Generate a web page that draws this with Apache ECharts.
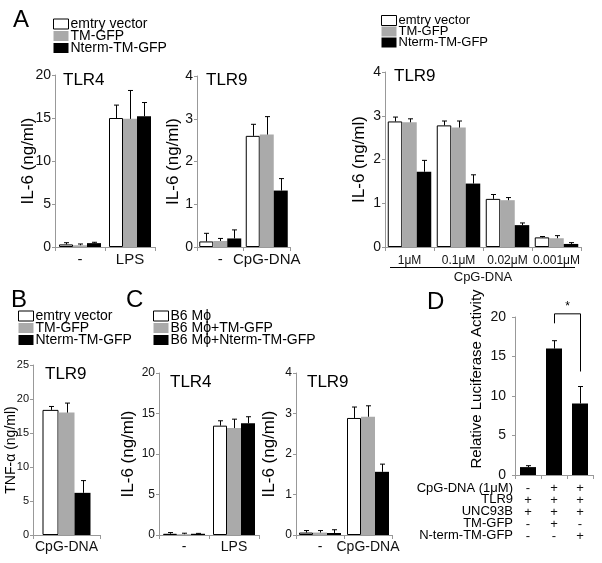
<!DOCTYPE html>
<html><head><meta charset="utf-8">
<script src="https://cdn.jsdelivr.net/npm/echarts@6/dist/echarts.min.js"></script>
<style>html,body{margin:0;padding:0;background:#fff}#c{width:602px;height:563px}</style>
</head><body><div id="c"></div>
<script>
// ---------- data ----------
const namesA = ['emtry vector', 'TM-GFP', 'Nterm-TM-GFP'];
const namesC = ['B6 Mϕ', 'B6 Mϕ+TM-GFP', 'B6 Mϕ+Nterm-TM-GFP'];

// Panel A, TLR4
const a1Cats = ['-', 'LPS'];
const a1Empty = [0.3, 15.0], a1EmptyErr = [0.2, 1.5];
const a1TM = [0.2, 14.9], a1TMErr = [0.15, 3.3];
const a1Nterm = [0.45, 15.2], a1NtermErr = [0.1, 1.6];

// Panel A, TLR9
const a2Cats = ['-', 'CpG-DNA'];
const a2Empty = [0.13, 2.6], a2EmptyErr = [0.19, 0.27];
const a2TM = [0.14, 2.63], a2TMErr = [0.06, 0.42];
const a2Nterm = [0.2, 1.32], a2NtermErr = [0.2, 0.28];

// Panel A, TLR9 dose
const a3Cats = ['1μM', '0.1μM', '0.02μM', '0.001μM'];
const a3Empty = [2.87, 2.78, 1.10, 0.22], a3EmptyErr = [0.10, 0.10, 0.10, 0.02];
const a3TM = [2.85, 2.73, 1.07, 0.20], a3TMErr = [0.08, 0.15, 0.06, 0.06];
const a3Nterm = [1.72, 1.45, 0.50, 0.07], a3NtermErr = [0.26, 0.20, 0.05, 0.03];

// Panel B, TNF-α
const bCats = ['CpG-DNA'];
const bEmpty = [18.4], bEmptyErr = [0.5];
const bTM = [18.0], bTMErr = [1.4];
const bNterm = [6.2], bNtermErr = [1.8];

// Panel C, TLR4
const c1Cats = ['-', 'LPS'];
const c1B6 = [0.15, 13.5], c1B6Err = [0.15, 0.6];
const c1TM = [0.1, 13.2], c1TMErr = [0.12, 1.1];
const c1Nterm = [0.15, 13.8], c1NtermErr = [0.05, 0.8];

// Panel C, TLR9
const c2Cats = ['-', 'CpG-DNA'];
const c2B6 = [0.06, 2.89], c2B6Err = [0.05, 0.27];
const c2TM = [0.06, 2.92], c2TMErr = [0.05, 0.27];
const c2Nterm = [0.05, 1.56], c2NtermErr = [0.08, 0.19];

// Panel D, luciferase
const dCats = ['ctrl', 'TM-GFP', 'N-term-TM-GFP'];
const dVals = [1.0, 16.0, 9.05];
const dErr = [0.18, 1.0, 2.15];
const dTableLabels = ['CpG-DNA (1μM)', 'TLR9', 'UNC93B', 'TM-GFP', 'N-term-TM-GFP'];
const dTable = [['-', '+', '+'], ['+', '+', '+'], ['+', '+', '+'], ['-', '+', '-'], ['-', '-', '+']];
const dBracket = [1, 2, 20.4, 19.2, 13.1]; // from cat, to cat, top, left foot, right foot

// ---------- chart ----------
const FONT = 'Liberation Sans, Arial, Helvetica, sans-serif';
const colors = ['#ffffff', '#aaaaaa', '#000000'];
const grids = [], xAxes = [], yAxes = [], series = [], titles = [];

function errSeries(k, bw, triples) {
  return {
    type: 'custom', xAxisIndex: k, yAxisIndex: k, z: 10, silent: true, clip: false,
    renderItem(params, api) {
      const cat = api.value(0), si = api.value(1), v = api.value(2), e = api.value(3);
      const b = api.coord([cat, v]);
      const t = api.coord([cat, v + e]);
      const x = Math.round(b[0] + (si - 1) * bw) + 0.5;
      return { type: 'group', children: [
        { type: 'line', shape: { x1: x, y1: b[1], x2: x, y2: t[1] }, style: { stroke: '#000', lineWidth: 1 } },
        { type: 'line', shape: { x1: x - 2.5, y1: t[1], x2: x + 2.5, y2: t[1] }, style: { stroke: '#000', lineWidth: 1 } }
      ]};
    },
    data: triples
  };
}

function panel(p) {
  const k = grids.length;
  grids.push({ left: p.left, top: p.top, width: p.width, height: p.height, containLabel: false, outerBoundsMode: 'none' });
  xAxes.push({
    type: 'category', gridIndex: k, data: p.cats,
    axisLine: { show: true, lineStyle: { color: '#999', width: 1 } },
    axisTick: { show: true, length: 4, alignWithLabel: false, lineStyle: { color: '#999' } },
    axisLabel: Object.assign({ interval: 0, fontSize: p.xFont, color: '#111', margin: p.xMargin || 5, fontFamily: FONT, hideOverlap: false }, p.xLabelExtra || {}),
    name: p.xName || '', nameLocation: 'middle', nameGap: p.xNameGap || 20, nameMoveOverlap: false,
    nameTextStyle: { fontSize: p.xFont + 1, color: '#111', fontFamily: FONT },
    splitLine: { show: false }
  });
  yAxes.push({
    type: 'value', gridIndex: k, min: 0, max: p.max, interval: p.interval,
    axisLine: { show: true, lineStyle: { color: '#999', width: 1 } },
    axisTick: { show: true, length: 3, lineStyle: { color: '#999' } },
    axisLabel: { fontSize: p.yFont, color: '#111', margin: p.yMargin || 4, fontFamily: FONT },
    splitLine: { show: false },
    name: p.yName, nameLocation: 'middle', nameGap: p.yNameGap, nameRotate: 90, nameMoveOverlap: false,
    nameTextStyle: { fontSize: p.yNameFont, color: '#000', fontFamily: FONT, padding: p.yNamePad || 0 }
  });
  const errs = [];
  p.sets.forEach((s, si) => {
    series.push({
      type: 'bar', name: s.name, xAxisIndex: k, yAxisIndex: k, data: s.vals,
      barWidth: p.bw, barGap: '0%',
      itemStyle: { color: s.color || colors[si], borderColor: '#000', borderWidth: s.borderWidth != null ? s.borderWidth : (si === 0 ? 1 : 0) },
      emphasis: { disabled: true }
    });
    s.errs.forEach((e, ci) => errs.push([ci, p.sets.length === 1 ? 1 : si, s.vals[ci], e]));
  });
  series.push(errSeries(k, p.bw, errs));
  if (p.title) titles.push({ text: p.title, left: p.titleLeft, top: p.titleTop, textStyle: { fontSize: p.titleFont, fontWeight: 'normal', color: '#000', fontFamily: FONT } });
  return k;
}

// A - TLR4
panel({ left: 55, top: 75, width: 100, height: 172, cats: a1Cats, max: 20, interval: 5, bw: 14,
  yFont: 14, xFont: 15, yName: 'IL-6 (ng/ml)', yNameGap: 18, yNameFont: 17,
  title: 'TLR4', titleLeft: 58, titleTop: 67, titleFont: 17,
  sets: [{ name: namesA[0], vals: a1Empty, errs: a1EmptyErr }, { name: namesA[1], vals: a1TM, errs: a1TMErr }, { name: namesA[2], vals: a1Nterm, errs: a1NtermErr }] });
// A - TLR9
panel({ left: 197, top: 76, width: 93, height: 171, cats: a2Cats, max: 4, interval: 1, bw: 14,
  yFont: 14, xFont: 15, yName: 'IL-6 (ng/ml)', yNameGap: 15, yNameFont: 17,
  title: 'TLR9', titleLeft: 201, titleTop: 67, titleFont: 17,
  sets: [{ name: namesA[0], vals: a2Empty, errs: a2EmptyErr }, { name: namesA[1], vals: a2TM, errs: a2TMErr }, { name: namesA[2], vals: a2Nterm, errs: a2NtermErr }] });
// A - TLR9 dose
panel({ left: 385, top: 72, width: 196, height: 175, cats: a3Cats, max: 4, interval: 1, bw: 14.5,
  yFont: 14, xFont: 12, xMargin: 8, yName: 'IL-6 (ng/ml)', yNameGap: 17, yNameFont: 17, xName: 'CpG-DNA', xNameGap: 24,
  title: 'TLR9', titleLeft: 389, titleTop: 63, titleFont: 17,
  sets: [{ name: namesA[0], vals: a3Empty, errs: a3EmptyErr }, { name: namesA[1], vals: a3TM, errs: a3TMErr }, { name: namesA[2], vals: a3Nterm, errs: a3NtermErr }] });
// B
panel({ left: 33, top: 365, width: 67, height: 170, cats: bCats, max: 25, interval: 5, bw: 16,
  yFont: 11, xFont: 14, yName: 'TNF-α (ng/ml)', yNameGap: 15, yNameFont: 14,
  title: 'TLR9', titleLeft: 40, titleTop: 361, titleFont: 17,
  sets: [{ name: namesA[0], vals: bEmpty, errs: bEmptyErr }, { name: namesA[1], vals: bTM, errs: bTMErr }, { name: namesA[2], vals: bNterm, errs: bNtermErr }] });
// C - TLR4
panel({ left: 159, top: 373, width: 100, height: 162, cats: c1Cats, max: 20, interval: 5, bw: 14,
  yFont: 12, xFont: 14, yName: 'IL-6 (ng/ml)', yNameGap: 22, yNameFont: 17,
  title: 'TLR4', titleLeft: 165, titleTop: 369, titleFont: 17,
  sets: [{ name: namesC[0], vals: c1B6, errs: c1B6Err }, { name: namesC[1], vals: c1TM, errs: c1TMErr }, { name: namesC[2], vals: c1Nterm, errs: c1NtermErr }] });
// C - TLR9
panel({ left: 296, top: 373, width: 96, height: 162, cats: c2Cats, max: 4, interval: 1, bw: 14,
  yFont: 12, xFont: 14, yName: 'IL-6 (ng/ml)', yNameGap: 18, yNameFont: 17,
  title: 'TLR9', titleLeft: 302, titleTop: 369, titleFont: 17,
  sets: [{ name: namesC[0], vals: c2B6, errs: c2B6Err }, { name: namesC[1], vals: c2TM, errs: c2TMErr }, { name: namesC[2], vals: c2Nterm, errs: c2NtermErr }] });
// D
const kD = panel({ left: 515, top: 317, width: 78, height: 158, cats: dCats, max: 20, interval: 5, bw: 16,
  yFont: 14, xFont: 13, yName: 'Relative Luciferase Activity', yNameGap: 31, yNameFont: 15, yNamePad: [0, 0, 0, 34], yMargin: 9,
  xMargin: 8,
  xLabelExtra: { lineHeight: 11.8, formatter: (v, i) => dTable.map(r => r[i]).join('\n') },
  sets: [{ name: 'Luciferase', vals: dVals, errs: dErr, color: '#000', borderWidth: 0 }] });

// significance bracket
series.push({
  type: 'custom', xAxisIndex: kD, yAxisIndex: kD, clip: false, silent: true, z: 10,
  renderItem(params, api) {
    const l0 = api.coord([api.value(0), api.value(3)]);
    const r0 = api.coord([api.value(1), api.value(4)]);
    const top = api.coord([api.value(0), api.value(2)])[1];
    const xl = Math.round(l0[0]) + 0.5, xr = Math.round(r0[0]) + 0.5;
    return { type: 'group', children: [
      { type: 'polyline', shape: { points: [[xl, l0[1]], [xl, top], [xr, top], [xr, r0[1]]] }, style: { stroke: '#000', lineWidth: 1, fill: null } },
      { type: 'text', x: (xl + xr) / 2, y: top - 1, style: { text: '*', fill: '#000', font: '12px ' + FONT, textAlign: 'center', textVerticalAlign: 'bottom' } }
    ]};
  },
  data: [dBracket]
});

// panel letters
[['A', 8, 3], ['B', 6, 283], ['C', 121, 283], ['D', 422, 285]].forEach(([t, l, tp]) =>
  titles.push({ text: t, left: l, top: tp, textStyle: { fontSize: 24, fontWeight: 'normal', color: '#000', fontFamily: FONT } }));

function legend(names, left, top, fs, gap) {
  return {
    data: names.map((n, i) => ({ name: n, itemStyle: { borderWidth: i === 0 ? 1 : 0, borderColor: '#000' } })),
    left, top, orient: 'vertical', selectedMode: false, icon: 'rect',
    itemWidth: 15, itemHeight: 10, itemGap: gap, padding: 0,
    textStyle: { fontSize: fs, color: '#000', fontFamily: FONT, padding: [0, 0, 0, -3] } };
}

const graphics = [
  { type: 'line', shape: { x1: 390, y1: 267.5, x2: 575, y2: 267.5 }, style: { stroke: '#000', lineWidth: 1 } }
];
dTableLabels.forEach((t, i) => graphics.push({
  type: 'text', x: 513, y: 488 + i * 11.8,
  style: { text: t, fill: '#000', font: '13px ' + FONT, textAlign: 'right', textVerticalAlign: 'middle' }
}));

const chart = echarts.init(document.getElementById('c'), null, { renderer: 'canvas' });
chart.setOption({
  backgroundColor: '#fff',
  animation: false,
  title: titles,
  legend: [legend(namesA, 53, 17, 14, -2), legend(namesA, 381, 14, 13, -2), legend(namesA, 18, 309, 14, -2), legend(namesC, 153, 309, 14, -2)],
  grid: grids, xAxis: xAxes, yAxis: yAxes, series,
  graphic: graphics
});
</script></body></html>
